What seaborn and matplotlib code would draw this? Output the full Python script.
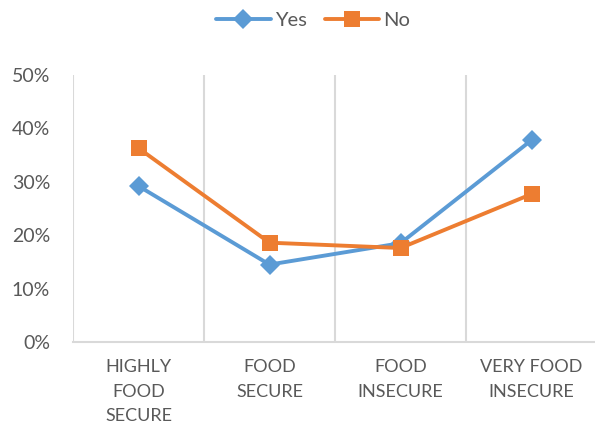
import matplotlib
matplotlib.use("Agg")
import matplotlib.pyplot as plt
import seaborn as sns
import pandas as pd
from matplotlib.ticker import PercentFormatter

categories = ["HIGHLY\nFOOD\nSECURE", "FOOD\nSECURE", "FOOD\nINSECURE", "VERY FOOD\nINSECURE"]
yes_values = [29.2, 14.5, 18.5, 37.8]
no_values = [36.3, 18.6, 17.6, 27.7]
series_names = ["Yes", "No"]
y_ticks = [0, 10, 20, 30, 40, 50]

sns.set_theme(style="white")
plt.rcParams["font.family"] = ["Lato", "DejaVu Sans"]

text_color = "#595959"
grid_color = "#D9D9D9"
palette = {"Yes": "#5B9BD5", "No": "#ED7D31"}

df = pd.DataFrame({
    "pos": list(range(len(categories))) * 2,
    "value": yes_values + no_values,
    "series": [series_names[0]] * len(categories) + [series_names[1]] * len(categories),
})

fig = plt.figure(figsize=(5.95, 4.30), dpi=100)
ax = fig.add_axes([73 / 595, 88 / 430, 524 / 595, 267 / 430])

sns.lineplot(data=df, x="pos", y="value", hue="series", style="series",
             palette=palette, markers={"Yes": "D", "No": "s"}, dashes=False,
             linewidth=2.8, markersize=10, markeredgewidth=0, ax=ax, zorder=3)
# square markers a little larger than the diamonds
for line in ax.lines:
    if line.get_marker() == "s":
        line.set_markersize(11.5)

ax.set_xlim(-0.5, len(categories) - 0.5)
ax.set_ylim(0, 50)
ax.set_yticks(y_ticks)
ax.yaxis.set_major_formatter(PercentFormatter(decimals=0))
ax.set_xticks(range(len(categories)))
ax.set_xticklabels(categories, linespacing=1.68)
ax.tick_params(axis="both", length=0, colors=text_color)
ax.tick_params(axis="y", pad=16.5, labelsize=14)
ax.tick_params(axis="x", pad=12, labelsize=13)
ax.set_xlabel("")
ax.set_ylabel("")

# vertical separators between categories
for b in [i - 0.5 for i in range(len(categories))]:
    ax.axvline(b, color=grid_color, linewidth=1.5, zorder=1)

for side in ["top", "right", "left"]:
    ax.spines[side].set_visible(False)
ax.spines["bottom"].set_color(grid_color)
ax.spines["bottom"].set_linewidth(1.5)

handles, labels = ax.get_legend_handles_labels()
ax.legend(handles, labels, loc="center", bbox_to_anchor=(313 / 595, 1 - 20 / 430),
          bbox_transform=fig.transFigure, ncol=2, frameon=False,
          fontsize=14.5, handlelength=2.7, columnspacing=0.9, handletextpad=0.2,
          labelcolor=text_color)

fig.savefig("out.png", dpi=100)
